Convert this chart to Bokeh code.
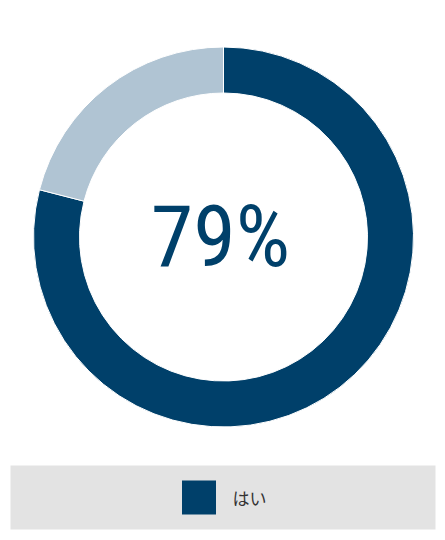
import numpy as np
from bokeh.plotting import figure
from bokeh.models import Range1d, ColumnDataSource
from bokeh.core.properties import value
from bokeh.embed import file_html
from bokeh.resources import INLINE

# data
labels = ["はい", "その他"]
shares = [79, 21]
colors = ["#00406A", "#B0C4D3"]
center_label = "79%"
legend_labels = ["はい"]

W, H = 445, 540
p = figure(width=W, height=H, output_backend="svg", toolbar_location=None,
           x_range=Range1d(0, W), y_range=Range1d(0, H), min_border=0)
p.axis.visible = False
p.grid.visible = False
p.outline_line_color = None
p.background_fill_color = "white"
p.border_fill_color = "white"

# donut: clockwise from 12 o'clock
frac = np.array(shares, dtype=float) / sum(shares)
cum = np.concatenate([[0], np.cumsum(frac)])
top = np.pi / 2
ends = top - cum[:-1] * 2 * np.pi
starts = top - cum[1:] * 2 * np.pi
src = ColumnDataSource(dict(start=starts, end=ends, color=colors, label=labels))
cx, cy = 223, 303.5
p.annular_wedge(x=cx, y=cy, inner_radius=144, outer_radius=190,
                start_angle="start", end_angle="end", direction="anticlock",
                fill_color="color", line_color="white", line_width=1, source=src)

p.text(x=[220], y=[304], text=[center_label], text_font=value("Roboto Condensed"),
       text_font_size="86px", text_color=colors[0], text_align="center",
       text_baseline="alphabetic")

# legend panel
p.quad(left=[10], right=[435], bottom=[11], top=[75], fill_color="#E3E3E3", line_color=None)
p.rect(x=[198.5], y=[43], width=34, height=34, fill_color=colors[0], line_color=None)
p.text(x=[232], y=[43], text=legend_labels, text_font=value("Noto Sans CJK JP"),
       text_font_size="17px", text_color="#333333", text_align="left",
       text_baseline="middle")

open("out.html", "w").write(file_html(p, INLINE))
